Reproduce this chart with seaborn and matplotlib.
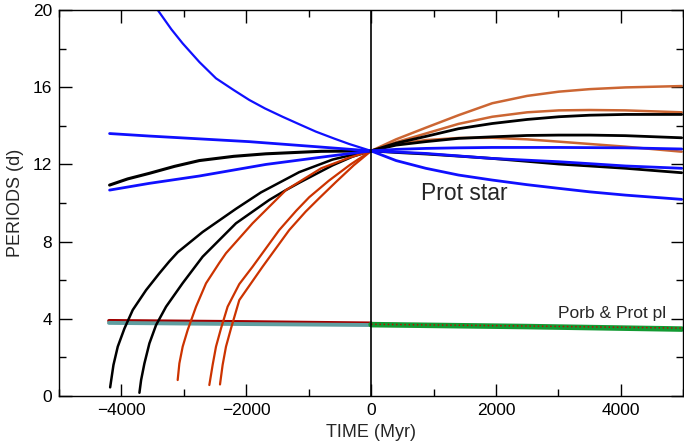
import numpy as np
import pandas as pd
import matplotlib
matplotlib.use("Agg")
import matplotlib.pyplot as plt
from matplotlib.ticker import MultipleLocator
import seaborn as sns

# ---------------- data ----------------
# left side (past), Prot star tracks
blue_up_t = [-3419, -3200, -3019, -2750, -2485, -2200, -1952, -1700, -1419,
             -1150, -885, -600, -352, 0]
blue_up_p = [20.0, 19.0, 18.27, 17.3, 16.46, 15.85, 15.34, 14.9, 14.47,
             14.08, 13.7, 13.35, 13.06, 12.7]

blue_flat_t = [-4190, -3552, -1952, -885, 0]
blue_flat_p = [13.6, 13.47, 13.18, 12.92, 12.7]

blue_low_t = [-4190, -3552, -2752, -1685, -619, 0]
blue_low_p = [10.67, 11.02, 11.4, 12.0, 12.45, 12.7]

black_top_t = [-4190, -3900, -3552, -3150, -2752, -2200, -1685, -800, 0]
black_top_p = [10.93, 11.25, 11.54, 11.9, 12.2, 12.42, 12.55, 12.68, 12.7]

black_a_t = [-4181, -4128, -4059, -3952, -3819, -3605, -3392, -3232, -3099,
             -2699, -2165, -1765, -1152, -619, -300, 0]
black_a_p = [0.45, 1.61, 2.56, 3.5, 4.46, 5.49, 6.36, 6.98, 7.45,
             8.5, 9.7, 10.55, 11.6, 12.25, 12.5, 12.7]

black_b_t = [-3712, -3685, -3632, -3552, -3445, -3285, -3019, -2699,
             -2165, -1632, -1365, -1152, -619, -300, 0]
black_b_p = [0.17, 0.83, 1.69, 2.73, 3.68, 4.63, 5.85, 7.22,
             8.95, 10.16, 10.67, 11.05, 11.95, 12.4, 12.7]

red_a_t = [-3099, -3072, -3019, -2939, -2805, -2645, -2432, -2325, -1899,
           -1365, -800, -350, 0]
red_a_p = [0.83, 1.69, 2.56, 3.42, 4.63, 5.84, 6.9, 7.4, 8.95,
           10.67, 11.8, 12.35, 12.7]

red_b_t = [-2592, -2539, -2485, -2405, -2299, -2112, -1899, -1472, -1200,
           -992, -680, -330, 0]
red_b_p = [0.57, 1.61, 2.56, 3.5, 4.63, 5.8, 6.7, 8.6, 9.6,
           10.3, 11.15, 12.0, 12.7]

red_c_t = [-2421, -2379, -2325, -2245, -2112, -1739, -1312, -1050, -832,
           -560, -280, 0]
red_c_p = [0.6, 1.61, 2.56, 3.5, 4.97, 6.7, 8.6, 9.55, 10.25,
           11.1, 11.95, 12.7]

# right side (future), Prot star tracks
fut_t = [0, 400, 875, 1400, 1941, 2500, 3008, 3500, 4075, 4976]
orange_a_p = [12.7, 13.3, 13.9, 14.55, 15.17, 15.55, 15.77, 15.9, 15.99, 16.06]
orange_b_p = [12.7, 13.15, 13.6, 14.1, 14.47, 14.7, 14.8, 14.82, 14.8, 14.7]
orange_c_p = [12.7, 13.05, 13.26, 13.37, 13.38, 13.3, 13.18, 13.06, 12.92, 12.66]
black_ra_p = [12.7, 13.1, 13.45, 13.85, 14.12, 14.33, 14.47, 14.55, 14.59, 14.59]
black_rb_p = [12.7, 13.0, 13.18, 13.35, 13.43, 13.5, 13.52, 13.52, 13.49, 13.38]
black_rc_p = [12.7, 12.62, 12.54, 12.43, 12.31, 12.16, 12.02, 11.92, 11.8, 11.57]
blue_ra_p = [12.7, 12.78, 12.83, 12.86, 12.88, 12.88, 12.88, 12.87, 12.86, 12.8]
blue_rb_p = [12.7, 12.64, 12.57, 12.44, 12.31, 12.22, 12.14, 12.04, 11.92, 11.8]
blue_rc_p = [12.7, 12.2, 11.8, 11.45, 11.19, 10.95, 10.76, 10.58, 10.41, 10.19]

# Porb & Prot planet
pl_left_t = [-4200, -2000, 0]
porb_left_p = [3.9, 3.84, 3.77]
protpl_left_p = [3.79, 3.73, 3.68]
pl_right_t = [0, 2500, 4976]
protpl_right_p = [3.7, 3.6, 3.47]
porb_right_p = [3.72, 3.63, 3.52]

xticks = [-4000, -2000, 0, 2000, 4000]
yticks = [0, 4, 8, 12, 16, 20]

# ---------------- styling ----------------
sns.set_theme(style="ticks")
plt.rcParams['font.family'] = ['Liberation Sans', 'DejaVu Sans']

BLUE = "#1010ff"
BLACK = "#000000"
RED = "#cc3300"
ORANGE = "#cc6633"

fig = plt.figure(figsize=(6.84, 4.45), dpi=100)
ax = fig.add_axes([0.0863, 0.110, 0.9125, 0.8675])

def line(t, p, color, lw=1.6, **kw):
    sns.lineplot(x=t, y=p, color=color, lw=lw, sort=False, estimator=None,
                 ax=ax, **kw)

# planet lines (under)
line(pl_left_t, porb_left_p, "#a00000", lw=2.6)
line(pl_left_t, protpl_left_p, "#5f9ea0", lw=2.8)
line(pl_right_t, protpl_right_p, "#129a32", lw=4.0)
line(pl_right_t, porb_right_p, "#cc0000", lw=1.0, linestyle=(0, (1, 2)))

# past tracks
line(black_a_t, black_a_p, BLACK, lw=1.8)
line(black_b_t, black_b_p, BLACK, lw=1.8)
line(red_a_t, red_a_p, RED)
line(red_b_t, red_b_p, RED)
line(red_c_t, red_c_p, RED)
line(black_top_t, black_top_p, BLACK, lw=2.2)
line(blue_up_t, blue_up_p, BLUE)
line(blue_flat_t, blue_flat_p, BLUE, lw=2.0)
line(blue_low_t, blue_low_p, BLUE, lw=2.0)

# future tracks
for p in (orange_a_p, orange_b_p, orange_c_p):
    line(fut_t, p, ORANGE, lw=1.8)
for p in (black_ra_p, black_rb_p, black_rc_p):
    line(fut_t, p, BLACK, lw=2.0)
for p in (blue_ra_p, blue_rb_p, blue_rc_p):
    line(fut_t, p, BLUE, lw=2.0)

ax.axvline(0, color="black", lw=1.2, zorder=5)

ax.set_xlim(-5000, 5000)
ax.set_ylim(0, 20)
ax.set_xticks(xticks)
ax.set_yticks(yticks)
ax.xaxis.set_minor_locator(MultipleLocator(1000))
ax.yaxis.set_minor_locator(MultipleLocator(2))
ax.tick_params(which="both", direction="in", top=True, right=True,
               labelsize=12.5, colors="black", width=1.0)
ax.tick_params(which="major", length=9, pad=5)
ax.tick_params(which="minor", length=5)
for s in ax.spines.values():
    s.set_color("black")
    s.set_linewidth(1.0)

ax.set_xlabel("TIME (Myr)", fontsize=13, labelpad=4)
ax.set_ylabel("PERIODS (d)", fontsize=13, labelpad=6)

ax.text(800, 10.5, "Prot star", fontsize=16.5, va="center", ha="left")
ax.text(2990, 4.3, "Porb & Prot pl", fontsize=12.5, va="center", ha="left")

fig.savefig("out.png", dpi=100)
